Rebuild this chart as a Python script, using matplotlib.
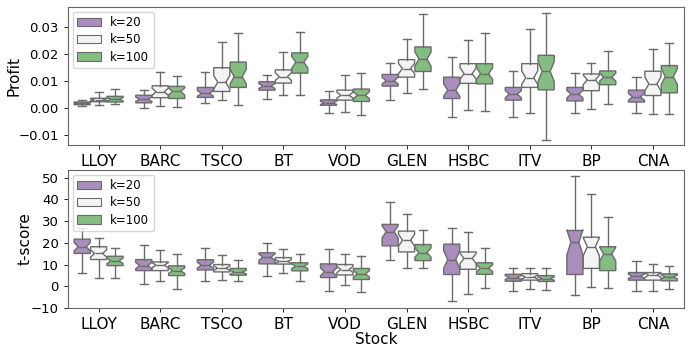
import matplotlib
matplotlib.use("Agg")
import matplotlib.pyplot as plt
import matplotlib.patches as mpatches
import numpy as np

stocks = ['LLOY', 'BARC', 'TSCO', 'BT', 'VOD', 'GLEN', 'HSBC', 'ITV', 'BP', 'CNA']
ks = ['k=20', 'k=50', 'k=100']
colors = ['#a98dbc', '#f4f4f4', '#84bc82']
n_obs = 30  # samples per box, used for the notch width

# Profit: one row per k, one value per stock
profit_med = [
    [0.0016, 0.0031, 0.0053, 0.0080, 0.0018, 0.0100, 0.0065, 0.0050, 0.0050, 0.0040],
    [0.0029, 0.0059, 0.0094, 0.0115, 0.0046, 0.0145, 0.0126, 0.0111, 0.0103, 0.0088],
    [0.0031, 0.0060, 0.0115, 0.0168, 0.0046, 0.0180, 0.0126, 0.0134, 0.0113, 0.0115],
]
profit_q1 = [
    [0.0011, 0.0018, 0.0038, 0.0065, 0.0009, 0.0080, 0.0034, 0.0028, 0.0025, 0.0021],
    [0.0022, 0.0037, 0.0060, 0.0091, 0.0028, 0.0113, 0.0090, 0.0075, 0.0063, 0.0045],
    [0.0021, 0.0034, 0.0075, 0.0128, 0.0023, 0.0134, 0.0088, 0.0066, 0.0085, 0.0055],
]
profit_q3 = [
    [0.0021, 0.0046, 0.0075, 0.0096, 0.0029, 0.0123, 0.0113, 0.0075, 0.0075, 0.0065],
    [0.0035, 0.0081, 0.0148, 0.0140, 0.0065, 0.0178, 0.0163, 0.0163, 0.0125, 0.0135],
    [0.0042, 0.0079, 0.0169, 0.0203, 0.0069, 0.0225, 0.0163, 0.0194, 0.0136, 0.0156],
]
profit_lo = [
    [0.0005, -0.0001, 0.0016, 0.0034, -0.0019, 0.0029, -0.0033, -0.0036, -0.0021, -0.0019],
    [0.0010, 0.0005, 0.0029, 0.0046, -0.0016, 0.0056, -0.0010, -0.0021, -0.0004, -0.0025],
    [0.0013, 0.0003, 0.0010, 0.0046, -0.0026, 0.0069, -0.0013, -0.0119, 0.0013, -0.0025],
]
profit_hi = [
    [0.0030, 0.0066, 0.0131, 0.0121, 0.0061, 0.0166, 0.0189, 0.0135, 0.0128, 0.0115],
    [0.0057, 0.0131, 0.0244, 0.0206, 0.0121, 0.0253, 0.0251, 0.0291, 0.0164, 0.0216],
    [0.0071, 0.0119, 0.0278, 0.0281, 0.0129, 0.0345, 0.0278, 0.0350, 0.0210, 0.0240],
]

# t-score
t_med = [
    [18.2, 9.5, 9.7, 13.4, 6.6, 25.1, 12.3, 4.0, 20.2, 4.6],
    [15.1, 9.7, 8.3, 11.4, 7.7, 21.2, 12.8, 4.2, 18.2, 5.1],
    [11.7, 7.2, 6.5, 9.2, 5.7, 15.5, 8.3, 3.5, 14.8, 4.3],
]
t_q1 = [
    [15.1, 7.2, 7.5, 10.3, 4.0, 18.6, 5.4, 2.3, 5.4, 2.8],
    [12.3, 7.2, 6.6, 10.2, 5.2, 15.8, 7.8, 2.8, 8.2, 2.8],
    [9.5, 4.9, 5.1, 7.1, 3.1, 11.8, 5.5, 2.2, 7.2, 2.5],
]
t_q3 = [
    [21.7, 12.3, 12.2, 15.4, 10.3, 28.5, 19.4, 5.5, 25.7, 6.3],
    [18.2, 11.2, 10.0, 13.2, 10.0, 25.4, 15.8, 5.8, 22.6, 6.3],
    [13.8, 9.4, 8.2, 10.8, 8.2, 19.2, 10.8, 4.9, 18.2, 5.7],
]
t_lo = [
    [6.3, 0.8, 2.2, 4.6, -2.3, 12.0, -6.9, -2.3, -4.2, -2.2],
    [4.0, 2.6, 3.1, 6.2, 0.5, 8.2, -3.8, -1.1, -0.2, -2.2],
    [3.7, -1.5, 2.3, 2.6, -2.8, 8.2, -0.6, -1.7, -0.6, -1.1],
]
t_hi = [
    [26.6, 19.1, 17.8, 20.0, 17.1, 38.9, 26.9, 8.6, 50.9, 11.7],
    [22.3, 16.5, 14.2, 17.2, 14.8, 33.1, 24.8, 8.5, 42.6, 10.3],
    [17.8, 14.9, 12.2, 14.9, 13.7, 25.7, 17.4, 8.2, 31.8, 9.5],
]


def make_stats(med, q1, q3, lo, hi):
    stats = []
    for i in range(len(med)):
        half = 1.57 * (q3[i] - q1[i]) / np.sqrt(n_obs)
        stats.append(dict(med=med[i], q1=q1[i], q3=q3[i], whislo=lo[i], whishi=hi[i],
                          cilo=med[i] - half, cihi=med[i] + half, fliers=[]))
    return stats


def draw_panel(ax, med, q1, q3, lo, hi):
    x = np.arange(len(stocks))
    step = 0.8 / 3
    gray = '#6b6b6b'
    for j in range(3):
        pos = x - 0.8 / 2 + step * (j + 0.5)
        ax.bxp(make_stats(med[j], q1[j], q3[j], lo[j], hi[j]), positions=pos,
               widths=step * 0.98, patch_artist=True, shownotches=True, showfliers=False,
               boxprops=dict(facecolor=colors[j], edgecolor=gray, linewidth=1.0),
               medianprops=dict(color=gray, linewidth=1.0),
               whiskerprops=dict(color=gray, linewidth=1.0),
               capprops=dict(color=gray, linewidth=1.0),
               manage_ticks=False)
    ax.set_xticks(x)
    ax.set_xticklabels(stocks, fontsize=11)
    ax.set_xlim(-0.5, len(stocks) - 0.5)
    ax.tick_params(axis='y', labelsize=9.5, length=3, width=0.6)
    ax.tick_params(axis='x', length=3, width=0.6)
    for s in ax.spines.values():
        s.set_color('#666666')
        s.set_linewidth(0.8)
    handles = [mpatches.Patch(facecolor=colors[j], edgecolor='#6b6b6b', linewidth=0.8, label=ks[j])
               for j in range(3)]
    ax.legend(handles=handles, loc='upper left', fontsize=8.5, handlelength=2.0,
              handleheight=0.7, borderaxespad=0.4, labelspacing=0.35)


fig = plt.figure(figsize=(6.92, 3.46), dpi=100)
ax1 = fig.add_axes([0.098, 0.581, 0.890, 0.399])
ax2 = fig.add_axes([0.098, 0.110, 0.890, 0.399])

draw_panel(ax1, profit_med, profit_q1, profit_q3, profit_lo, profit_hi)
ax1.set_ylim(-0.0138, 0.0373)
ax1.set_yticks([-0.01, 0.0, 0.01, 0.02, 0.03])
ax1.set_ylabel('Profit', fontsize=11)
ax1.yaxis.set_label_coords(-0.076, 0.5)

draw_panel(ax2, t_med, t_q1, t_q3, t_lo, t_hi)
ax2.set_ylim(-10, 53.6)
ax2.set_yticks([-10, 0, 10, 20, 30, 40, 50])
ax2.set_ylabel('t-score', fontsize=11)
ax2.yaxis.set_label_coords(-0.057, 0.5)
ax2.set_xlabel('Stock', fontsize=11, labelpad=0)

fig.savefig('out.png', dpi=100)
